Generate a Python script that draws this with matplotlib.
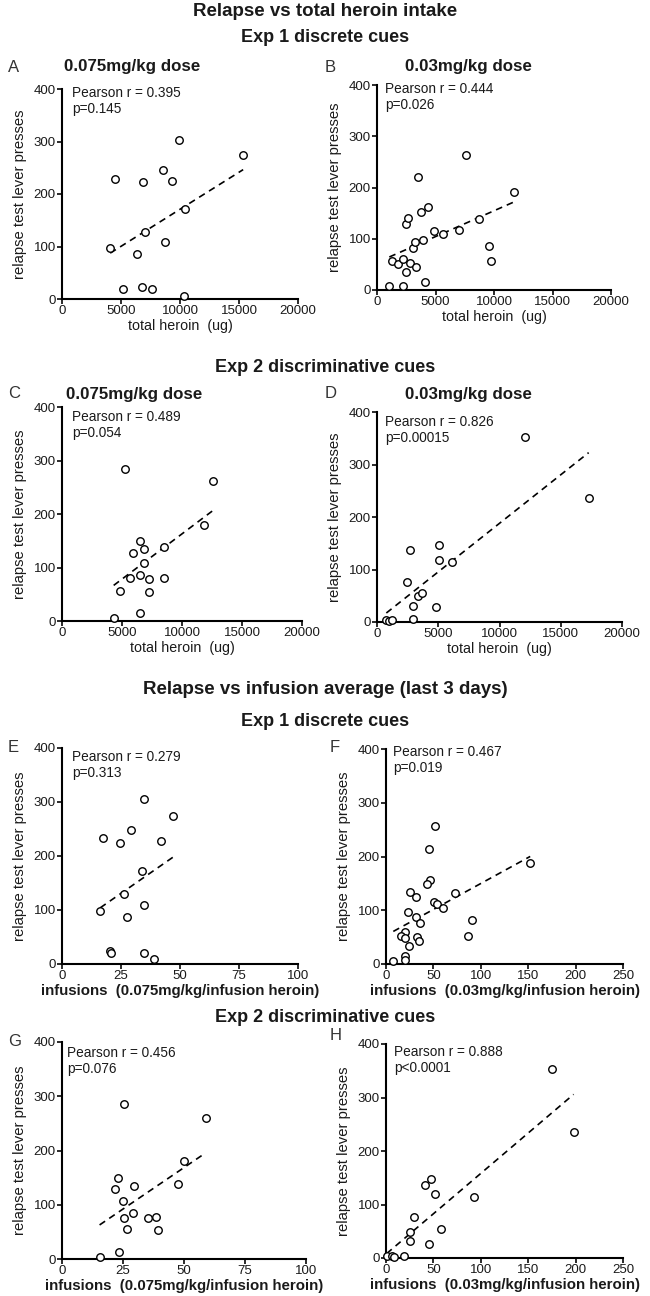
import matplotlib
matplotlib.use("Agg")
import matplotlib.pyplot as plt
import numpy as np

plt.rcParams["font.family"] = ["Liberation Sans", "DejaVu Sans"]
plt.rcParams["text.color"] = "#1a1a1a"
plt.rcParams["axes.labelcolor"] = "#1a1a1a"
plt.rcParams["xtick.color"] = "#1a1a1a"
plt.rcParams["ytick.color"] = "#1a1a1a"

# --- data ---
# A: Exp 1, 0.075 mg/kg, total heroin
a_x = [4085, 4507, 5211, 6338, 6761, 6901, 7042, 7606, 8592, 8732, 9296, 9944, 10423, 10366, 15352]
a_y = [97, 229, 19, 86, 23, 222, 128, 19, 245, 109, 225, 303, 171, 6, 274]
# B: Exp 1, 0.03 mg/kg, total heroin
b_x = [1054, 1282, 1795, 2194, 2251, 2450, 2450, 2678, 2849, 3048, 3248, 3362, 3533,
       3789, 3903, 4131, 4359, 4843, 5641, 6980, 7635, 8689, 9544, 9744, 11681]
b_y = [8, 57, 51, 60, 8, 35, 129, 140, 53, 81, 94, 44, 220,
       153, 98, 15, 161, 116, 110, 117, 263, 138, 85, 57, 192]
# C: Exp 2, 0.075 mg/kg, total heroin
c_x = [4306, 4806, 5278, 5639, 5889, 6472, 6528, 6528, 6833, 6806, 7222, 7222, 8472, 8472, 11806, 12556]
c_y = [5, 57, 285, 80, 128, 86, 149, 15, 135, 109, 78, 54, 81, 138, 180, 262]
# D: Exp 2, 0.03 mg/kg, total heroin
d_x = [762, 1000, 1224, 2422, 2694, 2912, 2912, 3347, 3673, 4789, 5061, 5061, 6150, 12054, 17279]
d_y = [4, 2, 4, 77, 137, 31, 6, 50, 56, 28, 147, 119, 115, 353, 236]
# E: Exp 1, 0.075 mg/kg, infusions
e_x = [17.2, 24.4, 29.2, 34.6, 41.8, 47.0, 34.0, 26.4, 16.2, 34.6, 27.7, 20.5, 20.9, 34.6, 38.8]
e_y = [233, 224, 248, 305, 227, 274, 173, 129, 99, 110, 87, 25, 20, 21, 9]
# F: Exp 1, 0.03 mg/kg, infusions
f_x = [52.1, 45.1, 46.5, 43.7, 25.7, 31.3, 50.7, 53.9, 60.6, 73.2, 152.1, 23.6, 31.7,
       35.6, 90.8, 87.0, 20.1, 15.8, 20.1, 32.7, 35.2, 24.6, 20.1, 20.1, 7.7]
f_y = [256, 214, 156, 148, 134, 124, 115, 112, 105, 133, 187, 96, 88,
       77, 81, 53, 59, 52, 48, 51, 42, 34, 14, 8, 5]
# G: Exp 2, 0.075 mg/kg, infusions
g_x = [15.4, 23.2, 25.6, 58.9, 50.2, 47.7, 22.8, 21.6, 29.7, 25.1, 28.9, 25.5, 26.5, 35.3, 38.6, 39.3]
g_y = [4, 12, 285, 260, 180, 138, 150, 129, 135, 107, 84, 76, 55, 76, 78, 54]
# H: Exp 2, 0.03 mg/kg, infusions
h_x = [175.0, 197.9, 47.5, 41.2, 52.1, 93.3, 29.6, 58.5, 25.7, 25.7, 45.1, 0.7, 6.0, 8.5, 19.4]
h_y = [353, 236, 147, 136, 119, 114, 76, 55, 49, 32, 27, 3, 3, 2, 3]

stats = ["Pearson r = 0.395\np=0.145", "Pearson r = 0.444\np=0.026",
         "Pearson r = 0.489\np=0.054", "Pearson r = 0.826\np=0.00015",
         "Pearson r = 0.279\np=0.313", "Pearson r = 0.467\np=0.019",
         "Pearson r = 0.456\np=0.076", "Pearson r = 0.888\np<0.0001"]
letters = ["A", "B", "C", "D", "E", "F", "G", "H"]
dose_titles = ["0.075mg/kg dose", "0.03mg/kg dose", "0.075mg/kg dose", "0.03mg/kg dose"]
xlabel_total = "total heroin  (ug)"
xlabel_inf = ["infusions  (0.075mg/kg/infusion heroin)", "infusions  (0.03mg/kg/infusion heroin)"]
ylabel = "relapse test lever presses"

W, H = 650, 1296
fig = plt.figure(figsize=(6.5, 12.96), dpi=100)

# axes boxes in pixels: left, right, top, bottom
boxes = [(62, 298, 89, 299), (377, 611, 85, 290),
         (62, 302, 407, 621), (377, 622, 412, 622),
         (62, 298, 748, 964), (386, 623, 749, 964),
         (62, 306, 1042, 1259), (386, 623, 1044, 1258)]
# stats text offset from the top-left corner of each axes (pixels)
stat_off = [(10, 4), (8, 4), (10, 10), (8, 10), (10, 9), (7, 3), (5, 11), (8, 8)]

datasets = [(a_x, a_y), (b_x, b_y), (c_x, c_y), (d_x, d_y),
            (e_x, e_y), (f_x, f_y), (g_x, g_y), (h_x, h_y)]
xmax = [20000, 20000, 20000, 20000, 100, 250, 100, 250]
xstep = [5000, 5000, 5000, 5000, 25, 50, 25, 50]

for i, ((x, y), (l, r, t, b)) in enumerate(zip(datasets, boxes)):
    ax = fig.add_axes([l / W, 1 - b / H, (r - l) / W, (b - t) / H])
    x = np.array(x, float)
    y = np.array(y, float)
    k, c0 = np.polyfit(x, y, 1)
    xs = np.array([x.min(), x.max()])
    ax.plot(xs, k * xs + c0, color="black", lw=1.2, linestyle=(0, (4, 3)), zorder=2)
    ax.plot(x, y, "o", mfc="white", mec="black", ms=5.4, mew=1.0, zorder=3, clip_on=False)
    ax.set_xlim(0, xmax[i])
    ax.set_ylim(0, 400)
    ax.set_xticks(np.arange(0, xmax[i] + 1, xstep[i]))
    ax.set_yticks([0, 100, 200, 300, 400])
    for s in ["top", "right"]:
        ax.spines[s].set_visible(False)
    for s in ["left", "bottom"]:
        ax.spines[s].set_linewidth(1.5)
    ax.tick_params(direction="out", length=3.5, width=1.3, labelsize=9.5, pad=1)
    ax.set_ylabel(ylabel, fontsize=10.7, labelpad=5)
    if i < 4:
        ax.set_xlabel(xlabel_total, fontsize=10.3, labelpad=1)
    else:
        ax.set_xlabel(xlabel_inf[i % 2], fontsize=10.8, fontweight="bold", labelpad=1)
    dx, dy = stat_off[i]
    ax.annotate(stats[i], xy=(0, 1), xycoords="axes fraction", xytext=(dx, -(dy - 7)),
                textcoords="offset pixels", va="top", ha="left", fontsize=9.8,
                linespacing=1.15)

# panel letters (pixel positions)
letter_pos = [(8, 67), (325, 67), (8, 393), (325, 393),
              (8, 748), (330, 748), (8, 1042), (330, 1036)]
for lt, (px, py) in zip(letters, letter_pos):
    fig.text(px / W, 1 - py / H, lt, fontsize=12, ha="left", va="center", color="#333333")

# dose titles
dose_pos = [(132, 67), (468, 67), (134, 394), (468, 394)]
for tt, (px, py) in zip(dose_titles, dose_pos):
    fig.text(px / W, 1 - py / H, tt, fontsize=12.2, fontweight="bold", ha="center", va="center")

# section titles
sections = [("Relapse vs total heroin intake", 12, 13.5), ("Exp 1 discrete cues", 38, 13),
            ("Exp 2 discriminative cues", 367, 13),
            ("Relapse vs infusion average (last 3 days)", 690, 13.5),
            ("Exp 1 discrete cues", 721, 13),
            ("Exp 2 discriminative cues", 1018, 13)]
for tt, py, fs in sections:
    fig.text(0.5, 1 - py / H, tt, fontsize=fs, fontweight="bold", ha="center", va="center")

fig.savefig("out.png", dpi=100)
